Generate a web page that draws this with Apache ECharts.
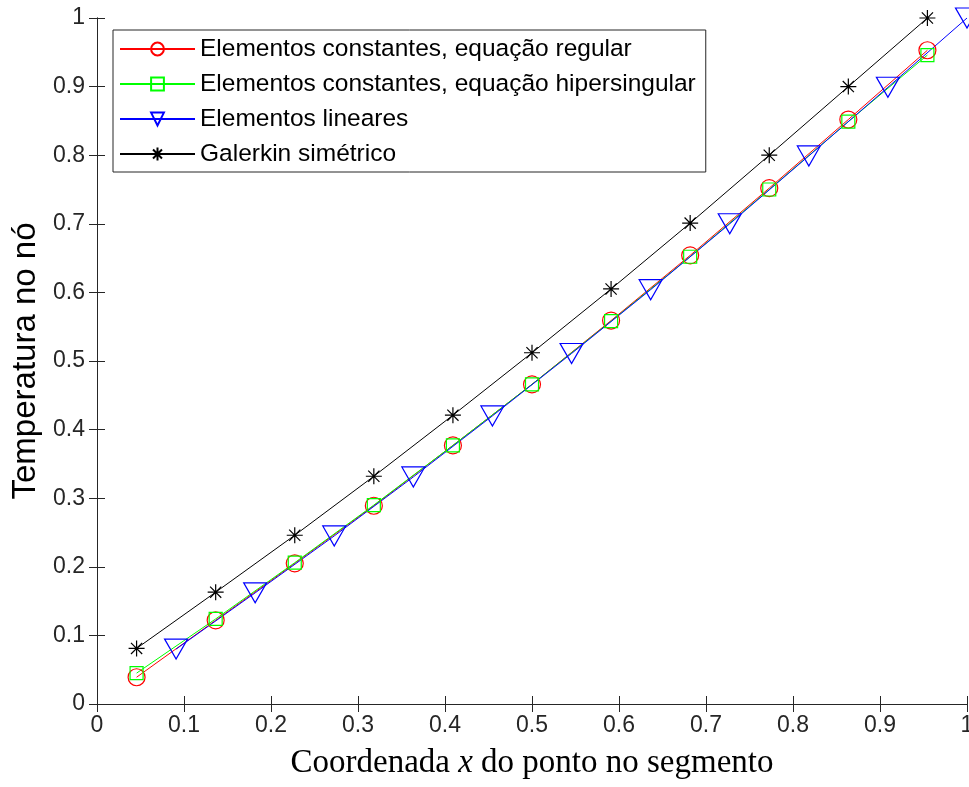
<!DOCTYPE html>
<html>
<head>
<meta charset="utf-8">
<script src="https://cdn.jsdelivr.net/npm/echarts@6/dist/echarts.min.js"></script>
<style>
  html, body { margin: 0; padding: 0; background: #fff; }
  #chart { width: 969px; height: 787px; }
</style>
</head>
<body>
<div id="chart"></div>
<script>
// node positions (constant elements at segment midpoints, linear at segment ends)
var xConst = [0.0455, 0.1364, 0.2273, 0.3182, 0.4091, 0.5, 0.5909, 0.6818, 0.7727, 0.8636, 0.9545];
var xLin = [0.0909, 0.1818, 0.2727, 0.3636, 0.4545, 0.5455, 0.6364, 0.7273, 0.8182, 0.9091, 1.0];

var constRegular = [0.039, 0.122, 0.205, 0.289, 0.377, 0.466, 0.559, 0.654, 0.752, 0.852, 0.953];
var constHyper = [0.045, 0.124, 0.206, 0.290, 0.377, 0.466, 0.558, 0.652, 0.750, 0.849, 0.946];
var linear = [0.080, 0.162, 0.245, 0.331, 0.420, 0.511, 0.604, 0.700, 0.799, 0.899, 1.000];
var galerkin = [0.081, 0.163, 0.246, 0.332, 0.421, 0.512, 0.605, 0.701, 0.800, 0.900, 1.000];

var names = [
    'Elementos constantes, equação regular',
    'Elementos constantes, equação hipersingular',
    'Elementos lineares',
    'Galerkin simétrico'
];

function pairs(xs, ys){
    return xs.map(function(x, i){ return [x, ys[i]]; });
}

var axisColor = '#262626';
var tickFont = { fontFamily: 'Liberation Sans', fontSize: 23, color: axisColor };

var asterisk = 'path://M0,-1L0,1M-1,0L1,0M-0.7,-0.7L0.7,0.7M-0.7,0.7L0.7,-0.7';
var triDown = 'path://M-1,-0.85L1,-0.85L0,0.85Z';

function mkSeries(name, data, color, symbol, size){
    return {
        name: name,
        type: 'line',
        data: data,
        symbol: symbol,
        symbolSize: size,
        showAllSymbol: true,
        animation: false,
        lineStyle: { color: color, width: 1 },
        itemStyle: { color: 'rgba(255,255,255,0)', borderColor: color, borderWidth: 1.2 },
        emphasis: { disabled: true }
    };
}

var chart = echarts.init(document.getElementById('chart'));
chart.setOption({
    backgroundColor: '#fff',
    animation: false,
    grid: { left: 97, right: 2, top: 18, bottom: 83, show: false, containLabel: false, outerBoundsMode: 'none' },
    legend: {
        orient: 'vertical',
        left: 113,
        top: 30,
        padding: [6, 10, 5, 6],
        itemWidth: 75,
        itemHeight: 16,
        itemGap: 9,
        backgroundColor: '#fff',
        borderColor: axisColor,
        borderWidth: 1,
        borderRadius: 0,
        data: names,
        textStyle: { fontFamily: 'Liberation Sans', fontSize: 24.5, color: '#000', lineHeight: 26, padding: [0, 0, 0, 0] }
    },
    xAxis: [{
        type: 'value', min: 0, max: 1, interval: 0.1,
        name: '{r|Coordenada }{i|x}{r| do ponto no segmento}',
        nameLocation: 'middle', nameGap: 43,
        nameTextStyle: {
            rich: {
                r: { fontFamily: 'Liberation Serif', fontSize: 33, color: '#000' },
                i: { fontFamily: 'Liberation Serif', fontSize: 33, fontStyle: 'italic', color: '#000' }
            }
        },
        axisLine: { show: true, lineStyle: { color: axisColor, width: 1 } },
        axisTick: { inside: true, length: 8, lineStyle: { color: axisColor } },
        axisLabel: Object.assign({ margin: 10 }, tickFont),
        splitLine: { show: false }
    }, {
        type: 'value', min: 0, max: 1, interval: 0.1, position: 'top',
        axisLine: { show: true, lineStyle: { color: axisColor, width: 1 } },
        axisTick: { inside: true, length: 8, lineStyle: { color: axisColor } },
        axisLabel: { show: false },
        splitLine: { show: false }
    }],
    yAxis: [{
        type: 'value', min: 0, max: 1, interval: 0.1,
        name: 'Temperatura no nó',
        nameLocation: 'middle', nameGap: 54,
        nameTextStyle: { fontFamily: 'Liberation Sans', fontSize: 33, color: '#000' },
        axisLine: { show: true, lineStyle: { color: axisColor, width: 1 } },
        axisTick: { inside: true, length: 8, lineStyle: { color: axisColor } },
        axisLabel: Object.assign({ margin: 12 }, tickFont),
        splitLine: { show: false }
    }, {
        type: 'value', min: 0, max: 1, interval: 0.1, position: 'right',
        axisLine: { show: true, lineStyle: { color: axisColor, width: 1 } },
        axisTick: { inside: true, length: 8, lineStyle: { color: axisColor } },
        axisLabel: { show: false },
        splitLine: { show: false }
    }],
    series: [
        mkSeries(names[0], pairs(xConst, constRegular), '#ff0000', 'circle', 17),
        mkSeries(names[1], pairs(xConst, constHyper), '#00ff00', 'rect', 13),
        mkSeries(names[2], pairs(xLin, linear), '#0000ff', triDown, [23, 20]),
        mkSeries(names[3], pairs(xConst, galerkin), '#000000', asterisk, 16)
    ]
});
</script>
</body>
</html>
